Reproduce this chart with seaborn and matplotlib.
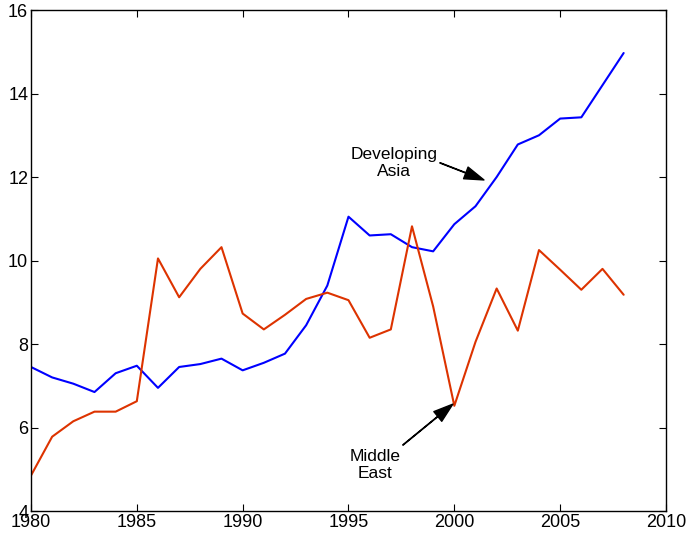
import numpy as np
import pandas as pd
import matplotlib
matplotlib.use("Agg")
import matplotlib.pyplot as plt
import seaborn as sns

# values
years = list(range(1980, 2009))
developing_asia = [7.45, 7.20, 7.05, 6.85, 7.30, 7.48, 6.95, 7.45, 7.52, 7.65,
                   7.37, 7.55, 7.77, 8.45, 9.40, 11.05, 10.60, 10.63, 10.32, 10.22,
                   10.87, 11.30, 12.00, 12.78, 13.00, 13.40, 13.43, 14.20, 14.97]
middle_east = [4.85, 5.78, 6.15, 6.38, 6.38, 6.63, 10.05, 9.12, 9.80, 10.32,
               8.73, 8.35, 8.70, 9.08, 9.23, 9.05, 8.15, 8.35, 10.82, 8.90,
               6.52, 8.05, 9.33, 8.32, 10.25, 9.78, 9.30, 9.80, 9.18]
x_ticks = [1980, 1985, 1990, 1995, 2000, 2005, 2010]
y_ticks = [4, 6, 8, 10, 12, 14, 16]

df = pd.DataFrame({
    "year": years * 2,
    "value": developing_asia + middle_east,
    "region": ["Developing Asia"] * len(years) + ["Middle East"] * len(years),
})

sns.set_style("ticks")
plt.rcParams["font.family"] = ["Liberation Sans", "DejaVu Sans"]
plt.rcParams["text.color"] = "black"

fig = plt.figure(figsize=(6.9, 5.36), dpi=100)
ax = fig.add_axes([0.0449, 0.0466, 0.9203, 0.9347])

sns.lineplot(data=df, x="year", y="value", hue="region",
             palette={"Developing Asia": "#0000ff", "Middle East": "#dd3300"},
             linewidth=1.5, legend=False, ax=ax)

ax.set_xlim(1980, 2010)
ax.set_ylim(4, 16)
ax.set_xticks(x_ticks)
ax.set_yticks(y_ticks)
ax.set_xlabel("")
ax.set_ylabel("")
ax.tick_params(direction="in", length=5, width=0.8, labelsize=13,
               top=True, right=True, colors="black", pad=2)
for sp in ax.spines.values():
    sp.set_visible(True)
    sp.set_linewidth(1.0)
    sp.set_color("black")

arrow = dict(facecolor="black", edgecolor="black", width=0.3,
             headwidth=9, headlength=14, shrink=0.0)

ax.text(1997.15, 12.33, "Developing\nAsia", ha="center", va="center",
        fontsize=12.5, linespacing=1.15)
ax.annotate("", xy=(2001.4, 11.93), xytext=(1999.32, 12.34), arrowprops=arrow)

ax.text(1996.25, 5.10, "Middle\nEast", ha="center", va="center",
        fontsize=12.5, linespacing=1.15)
ax.annotate("", xy=(1999.93, 6.56), xytext=(1997.57, 5.58), arrowprops=arrow)

fig.savefig("out.png", dpi=100)
